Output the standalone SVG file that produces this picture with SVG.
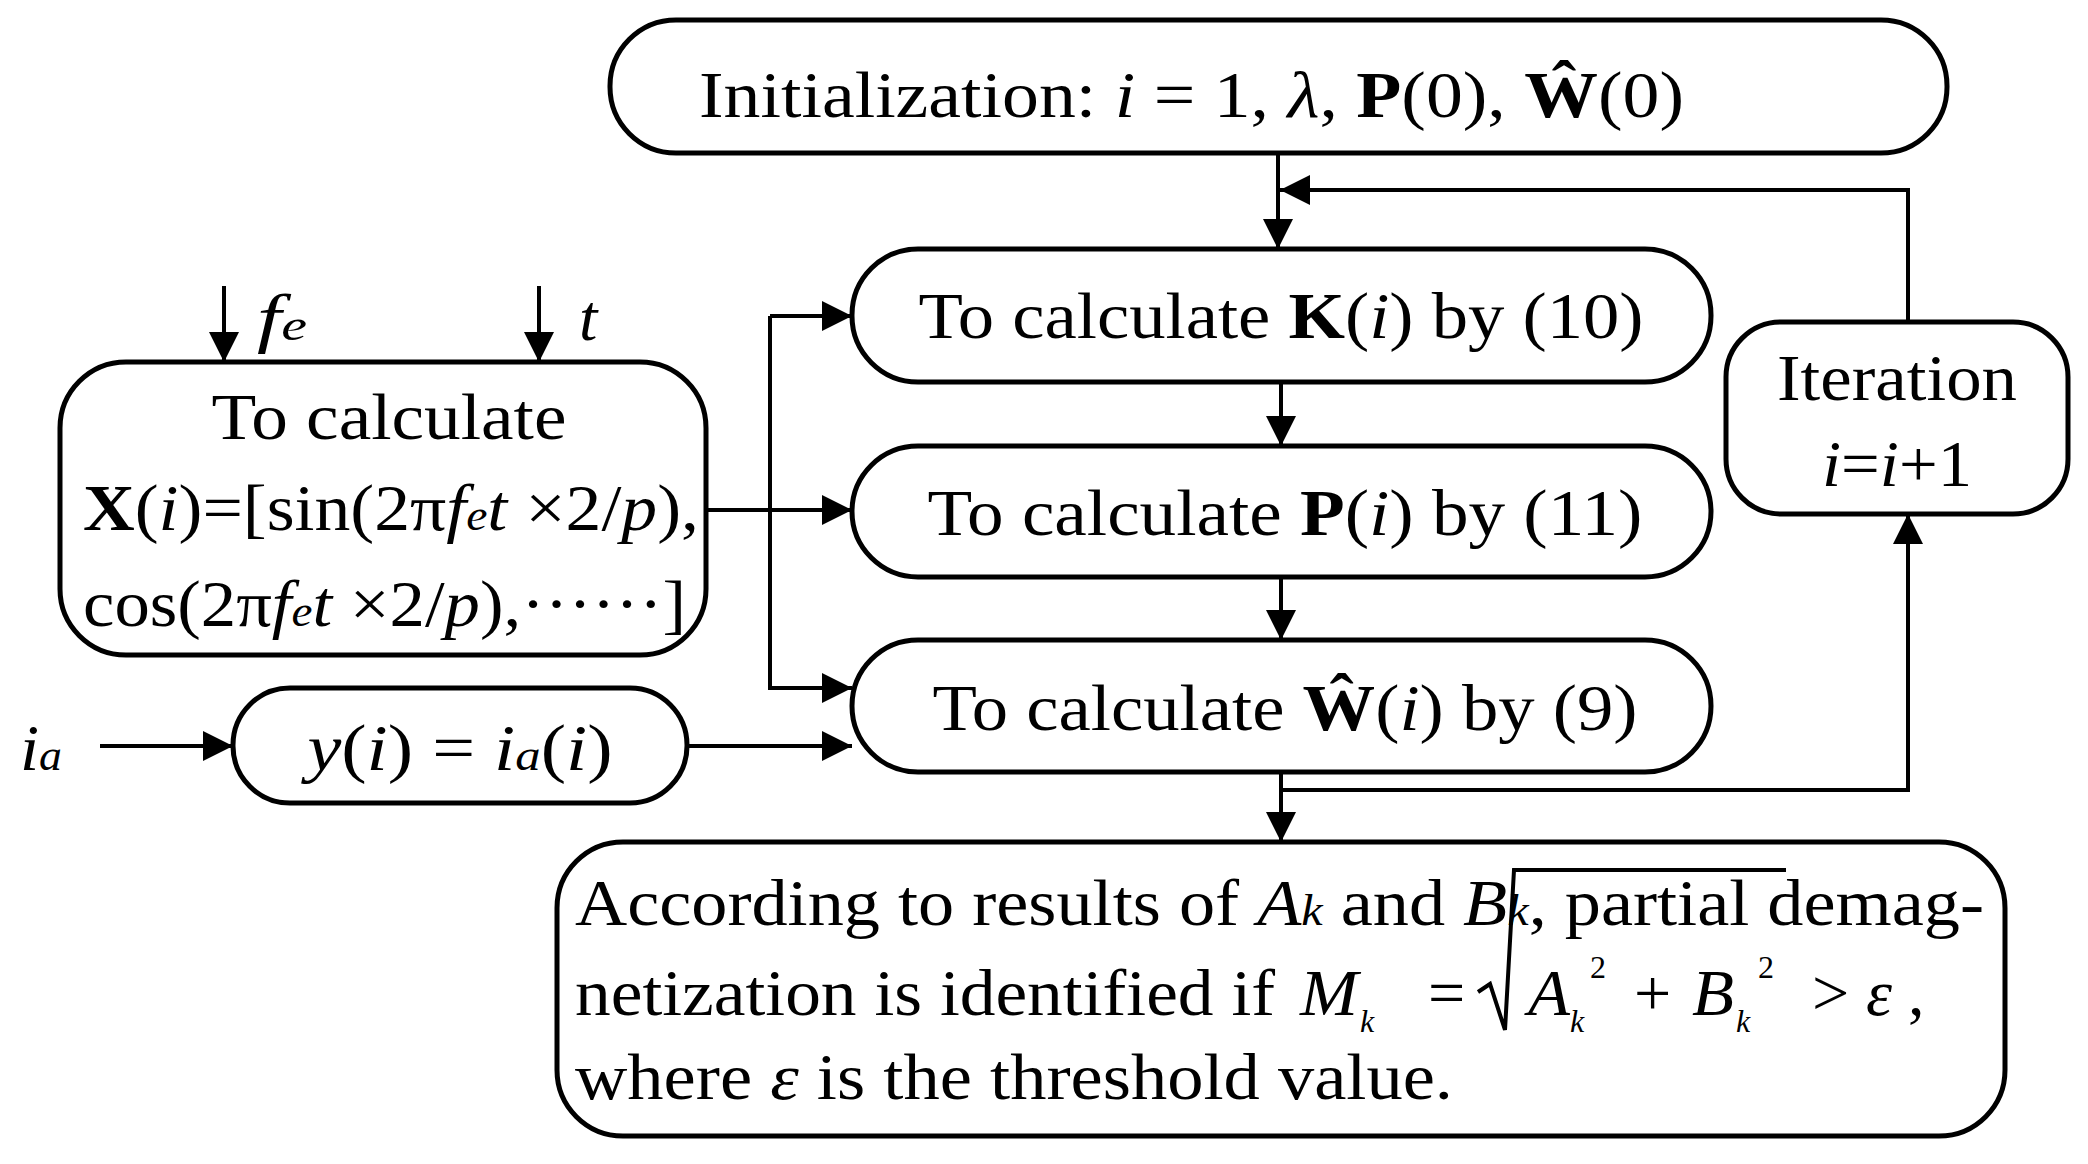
<svg xmlns="http://www.w3.org/2000/svg" width="2088" height="1164" viewBox="0 0 2088 1164">
<defs>
<marker id="ah" viewBox="0 0 10 10" refX="10" refY="5" markerWidth="30" markerHeight="30" markerUnits="userSpaceOnUse" orient="auto"><path d="M0,0 L10,5 L0,10 z" fill="#000"/></marker>
<style>
.b{fill:#fff;stroke:#000;stroke-width:5}
.c{fill:none;stroke:#000;stroke-width:4}
text{font-family:"Liberation Serif","Times New Roman",serif;font-size:66px;fill:#000}
.i{font-style:italic}
.bd{font-weight:bold}
.s{font-size:32px}
</style>
</defs>
<rect width="2088" height="1164" fill="#fff"/>
<g id="connectors">
<path class="c" d="M1278,153 V249" marker-end="url(#ah)"/>
<path class="c" d="M1908,322 V190 H1280" marker-end="url(#ah)"/>
<path class="c" d="M1281,382 V446" marker-end="url(#ah)"/>
<path class="c" d="M1281,577 V640" marker-end="url(#ah)"/>
<path class="c" d="M1281,772 V842" marker-end="url(#ah)"/>
<path class="c" d="M1281,790 H1908 V514" marker-end="url(#ah)"/>
<path class="c" d="M224,286 V362" marker-end="url(#ah)"/>
<path class="c" d="M539,286 V362" marker-end="url(#ah)"/>
<path class="c" d="M100,746 H233" marker-end="url(#ah)"/>
<path class="c" d="M687,746 H852" marker-end="url(#ah)"/>
<path class="c" d="M706,510 H852" marker-end="url(#ah)"/>
<path class="c" d="M770,316 V688 H852" marker-end="url(#ah)"/>
<path class="c" d="M770,316 H852" marker-end="url(#ah)"/>
</g>
<g id="init"><rect class="b" x="610" y="20" width="1337" height="133" rx="66"/>
<text x="699" y="117" textLength="985" lengthAdjust="spacingAndGlyphs">Initialization: <tspan class="i">i</tspan> = 1, <tspan class="i">λ</tspan>, <tspan class="bd">P</tspan>(0), <tspan class="bd">Ŵ</tspan>(0)</text></g>
<g id="k"><rect class="b" x="852" y="249" width="859" height="133" rx="66"/>
<text x="1281" y="338" text-anchor="middle" textLength="725" lengthAdjust="spacingAndGlyphs">To calculate <tspan class="bd">K</tspan>(<tspan class="i">i</tspan>) by (10)</text></g>
<g id="p"><rect class="b" x="852" y="446" width="859" height="131" rx="66"/>
<text x="1285" y="535" text-anchor="middle" textLength="715" lengthAdjust="spacingAndGlyphs">To calculate <tspan class="bd">P</tspan>(<tspan class="i">i</tspan>) by (11)</text></g>
<g id="w"><rect class="b" x="852" y="640" width="859" height="132" rx="66"/>
<text x="1285" y="730" text-anchor="middle" textLength="705" lengthAdjust="spacingAndGlyphs">To calculate <tspan class="bd">Ŵ</tspan>(<tspan class="i">i</tspan>) by (9)</text></g>
<g id="iter"><rect class="b" x="1726" y="322" width="342" height="192" rx="55"/>
<text x="1897" y="400" text-anchor="middle" textLength="240" lengthAdjust="spacingAndGlyphs">Iteration</text>
<text x="1897" y="486" text-anchor="middle" textLength="150" lengthAdjust="spacingAndGlyphs"><tspan class="i">i</tspan>=<tspan class="i">i</tspan>+1</text></g>
<g id="x"><rect class="b" x="60" y="362" width="646" height="293" rx="66"/>
<text x="389" y="439" text-anchor="middle" textLength="355" lengthAdjust="spacingAndGlyphs">To calculate</text>
<text x="83" y="530" textLength="616" lengthAdjust="spacingAndGlyphs"><tspan class="bd">X</tspan>(<tspan class="i">i</tspan>)=[sin(2π<tspan class="i">f</tspan><tspan class="i" font-size="44">e</tspan><tspan class="i">t</tspan> ×2/<tspan class="i">p</tspan>),</text>
<text x="83" y="626" textLength="603" lengthAdjust="spacingAndGlyphs">cos(2π<tspan class="i">f</tspan><tspan class="i" font-size="44">e</tspan><tspan class="i">t</tspan> ×2/<tspan class="i">p</tspan>),······]</text></g>
<g id="fe"><text x="257" y="340" class="i" textLength="50" lengthAdjust="spacingAndGlyphs">f<tspan font-size="44">e</tspan></text></g>
<g id="t"><text x="579" y="340" class="i">t</text></g>
<g id="ia"><text x="20" y="770" class="i" textLength="42" lengthAdjust="spacingAndGlyphs">i<tspan font-size="44">a</tspan></text></g>
<g id="y"><rect class="b" x="233" y="688" width="454" height="115" rx="57"/>
<text x="460" y="770" text-anchor="middle" textLength="305" lengthAdjust="spacingAndGlyphs"><tspan class="i">y</tspan>(<tspan class="i">i</tspan>) = <tspan class="i">i</tspan><tspan class="i" font-size="44">a</tspan>(<tspan class="i">i</tspan>)</text></g>
<g id="result"><rect class="b" x="557" y="842" width="1448" height="294" rx="66"/>
<text x="575" y="925" textLength="1409" lengthAdjust="spacingAndGlyphs">According to results of <tspan class="i">A</tspan><tspan class="i" font-size="44">k</tspan> and <tspan class="i">B</tspan><tspan class="i" font-size="44">k</tspan>, partial demag-</text>
<text x="575" y="1015" textLength="700" lengthAdjust="spacingAndGlyphs">netization is identified if</text>
<text x="1300" y="1015" class="i" textLength="58" lengthAdjust="spacingAndGlyphs">M</text>
<text x="1360" y="1032" class="i s">k</text>
<text x="1428" y="1015">=</text>
<path d="M1478,992 L1490,984 L1505,1030 L1514,870 H1786" fill="none" stroke="#000" stroke-width="4"/>
<text x="1528" y="1015" class="i" textLength="42" lengthAdjust="spacingAndGlyphs">A</text>
<text x="1570" y="1032" class="i s">k</text>
<text x="1590" y="978" class="s">2</text>
<text x="1634" y="1015">+</text>
<text x="1692" y="1015" class="i" textLength="42" lengthAdjust="spacingAndGlyphs">B</text>
<text x="1736" y="1032" class="i s">k</text>
<text x="1758" y="978" class="s">2</text>
<text x="1812" y="1015">&gt;</text>
<text x="1866" y="1015" class="i">ε</text>
<text x="1908" y="1015">,</text>
<text x="575" y="1099" textLength="878" lengthAdjust="spacingAndGlyphs">where <tspan class="i">ε</tspan> is the threshold value.</text></g>
</svg>
